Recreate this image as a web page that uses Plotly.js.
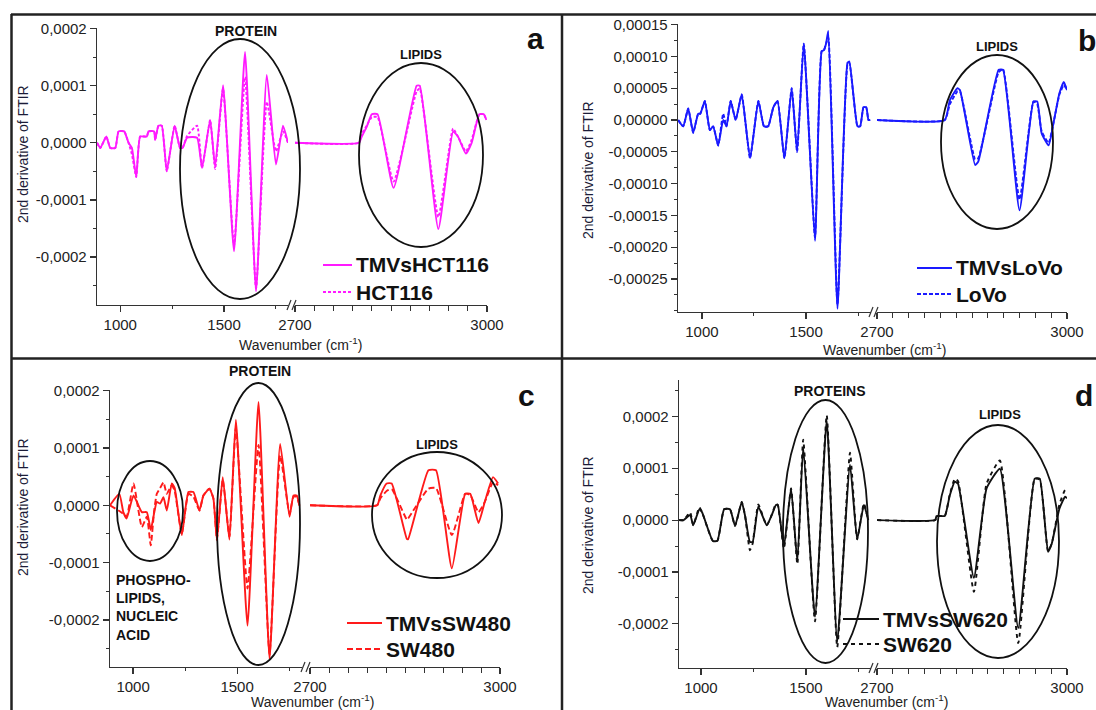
<!DOCTYPE html>
<html>
<head>
<meta charset="utf-8">
<script src="https://cdn.plot.ly/plotly-3.0.1.min.js"></script>
<style>html,body{margin:0;padding:0;background:#fff;}#chart{width:1096px;height:710px;}</style>
</head>
<body>
<div id="chart"></div>
<script>
// ---------------- DATA ----------------
// Panel a: TMVsHCT116 vs HCT116
const aLeftWn = [888,904,933,952,976,992,1019,1040,1056,1077,1096,1128,1136,1163,1168,1184,1200,1224,1262,1288,1300,1322,1370,1394,1433,1457,1495,1548,1601,1654,1706,1750,1784,1808];
const aLeftTMV = [0,-0.9e-5,1.1e-5,-0.9e-5,-0.9e-5,2e-5,2e-5,0,-0.9e-5,-6e-5,1.1e-5,1.1e-5,2e-5,2e-5,0.5e-5,3e-5,3e-5,-5e-5,3e-5,-0.9e-5,-0.9e-5,0.9e-5,0.9e-5,-4.4e-5,4e-5,-4.2e-5,10.1e-5,-19e-5,15.9e-5,-26e-5,11.9e-5,-3.8e-5,3e-5,0];
const aLeftCtrl = [0,-0.9e-5,1.1e-5,-0.9e-5,-0.9e-5,2e-5,2e-5,0,-2e-5,-6e-5,1.1e-5,1.1e-5,2e-5,2e-5,0.5e-5,3e-5,3e-5,-5e-5,3e-5,-0.9e-5,-0.9e-5,1.2e-5,3e-5,-4.4e-5,4e-5,-4.6e-5,9.5e-5,-18e-5,11.5e-5,-25.5e-5,7.2e-5,-1.5e-5,2e-5,0];
const aRightWn = [2700,2800,2804,2812,2820,2829,2854,2890,2895,2924,2947,2955,2967,2976,2988,2995,2999];
const aRightTMV = [0,0,1e-5,2.8e-5,5e-5,5e-5,-7.9e-5,10e-5,10e-5,-15.1e-5,2e-5,1e-5,-1.9e-5,0,5e-5,5e-5,4e-5];
const aRightCtrl = [0,0,1.5e-5,3e-5,4.5e-5,4.5e-5,-6.8e-5,9e-5,9.5e-5,-13e-5,2.5e-5,1e-5,-1.5e-5,0.5e-5,5e-5,5e-5,4e-5];

// Panel b: TMVsLoVo vs LoVo
const bLeftWn = [886,910,934,958,982,992,1014,1038,1054,1078,1102,1118,1138,1162,1191,1231,1271,1298,1318,1343,1363,1396,1431,1457,1489,1543,1575,1586,1596,1607,1651,1699,1708,1747,1760,1776,1789,1800,1808];
const bLeftTMV = [0,-1e-5,1.8e-5,-2e-5,1e-5,1e-5,3e-5,-1.6e-5,-1e-5,-4e-5,0,-1e-5,3e-5,0,4e-5,-6e-5,3e-5,-1e-5,-1e-5,2e-5,3e-5,-6e-5,5e-5,-5e-5,12e-5,-19e-5,10.8e-5,11e-5,12e-5,14e-5,-29.7e-5,9e-5,9.2e-5,-1e-5,-1e-5,2e-5,2e-5,0,0];
const bLeftCtrl = [0,-1e-5,1.8e-5,-2e-5,1e-5,1e-5,3e-5,-1.6e-5,-1e-5,-4e-5,1e-5,-1e-5,3e-5,0,4e-5,-6e-5,3e-5,-1e-5,-1e-5,2e-5,3e-5,-6e-5,5e-5,-5e-5,12e-5,-18.5e-5,10.8e-5,11e-5,12e-5,13e-5,-29e-5,8.7e-5,9e-5,-1e-5,-1e-5,2e-5,2e-5,0,0];
const bRightWn = [2700,2807,2815,2827,2831,2855,2860,2892,2899,2925,2947,2953,2960,2971,2979,2988,2995,3000];
const bRightTMV = [0,0,3.1e-5,5e-5,4.7e-5,-7.1e-5,-6.5e-5,7.9e-5,7.9e-5,-14.2e-5,2.9e-5,2.9e-5,-2.1e-5,-4e-5,-0.3e-5,4.2e-5,6e-5,4.7e-5];
const bRightCtrl = [0,0,2.5e-5,4.5e-5,4.5e-5,-6.2e-5,-6e-5,7.5e-5,8e-5,-12.5e-5,2.9e-5,2.5e-5,-1.8e-5,-3.6e-5,-0.3e-5,4e-5,5.5e-5,4.7e-5];

// Panel c: TMVsSW480 vs SW480
const cLeftWn = [889,934,953,969,1002,1042,1066,1085,1101,1114,1130,1146,1162,1186,1200,1234,1266,1290,1319,1338,1367,1386,1403,1431,1463,1494,1550,1603,1656,1707,1752,1771,1787,1800,1803];
const cLeftTMV = [0,2e-5,-1.2e-5,-2.3e-5,1.7e-5,-1.2e-5,-1.2e-5,-4.3e-5,-1.4e-5,0.6e-5,0.3e-5,1.4e-5,-0.9e-5,3.8e-5,3e-5,-5.2e-5,2.3e-5,2.3e-5,-0.9e-5,1.7e-5,2.9e-5,1.2e-5,-6.1e-5,4.9e-5,-6e-5,14.9e-5,-21e-5,18e-5,-26.8e-5,10.7e-5,-2e-5,1.7e-5,1.7e-5,0,0];
const cLeftCtrl = [0,-1e-5,-1.5e-5,-2e-5,3.8e-5,-3.8e-5,-2e-5,-7e-5,-1e-5,2e-5,3e-5,4e-5,2e-5,3.5e-5,2.5e-5,-5e-5,2e-5,1.5e-5,-0.9e-5,1.7e-5,2.9e-5,1.2e-5,-6e-5,4.5e-5,-5.5e-5,13.5e-5,-14.5e-5,10.5e-5,-26e-5,8.7e-5,-1.5e-5,1.5e-5,1.5e-5,0,0];
const cRightWn = [2700,2806,2811,2821,2829,2853,2855,2887,2899,2924,2945,2953,2966,2976,2989,2997];
const cRightTMV = [0,0,1.7e-5,3.8e-5,3.8e-5,-5.9e-5,-5.9e-5,6.1e-5,6.1e-5,-11e-5,2e-5,2e-5,-3.1e-5,0.6e-5,4.9e-5,3.8e-5];
const cRightCtrl = [0,0,1.2e-5,2.5e-5,2.8e-5,-2.5e-5,-2.3e-5,2.9e-5,3e-5,-5.2e-5,2e-5,1.8e-5,-1.2e-5,0.6e-5,4e-5,3.5e-5];

// Panel d: TMVsSW620 vs SW620
const dLeftWn = [895,917,948,963,992,1005,1056,1078,1110,1138,1162,1194,1210,1233,1246,1273,1313,1337,1357,1366,1395,1429,1459,1487,1543,1599,1649,1710,1744,1776,1797];
const dLeftTMV = [0,0,1e-5,-1e-5,2.1e-5,1.5e-5,-4e-5,-4e-5,2.1e-5,2.1e-5,-1.1e-5,3.5e-5,0.8e-5,-4.2e-5,-4.2e-5,2.6e-5,-1e-5,1e-5,2.9e-5,2.9e-5,-5.1e-5,6.1e-5,-8e-5,14.1e-5,-18.6e-5,19.2e-5,-23.4e-5,10.7e-5,-3.7e-5,2.9e-5,0];
const dLeftCtrl = [0,0,1.5e-5,-1e-5,2.5e-5,1.5e-5,-4e-5,-4e-5,2.1e-5,2.1e-5,-1.1e-5,3.5e-5,0.8e-5,-5.8e-5,-4.5e-5,3e-5,-1e-5,1e-5,3.2e-5,2.9e-5,-5.5e-5,6.1e-5,-8.5e-5,15.5e-5,-19.5e-5,20.2e-5,-24.5e-5,13e-5,-3.7e-5,3.2e-5,0];
const dRightWn = [2700,2792,2794,2807,2815,2823,2828,2853,2873,2894,2923,2949,2957,2970,2976,2988,2997,3000];
const dRightTMV = [0,0,0.8e-5,0.8e-5,4.8e-5,7.4e-5,7e-5,-11.1e-5,6.1e-5,9.9e-5,-20.8e-5,8e-5,8e-5,-6.1e-5,-4.5e-5,2.2e-5,4.5e-5,4.2e-5];
const dRightCtrl = [0,0,0.8e-5,0.8e-5,5e-5,8e-5,7.5e-5,-13.8e-5,7e-5,11.5e-5,-23.7e-5,8e-5,7.8e-5,-6e-5,-4.5e-5,3e-5,5.8e-5,5.5e-5];

// Tick values / labels
const yTicksACD = [-0.0002,-0.0001,0,0.0001,0.0002];
const yTicksB = [-0.00025,-0.0002,-0.00015,-0.0001,-0.00005,0,0.00005,0.0001,0.00015];
const xLeftTicks = [1000,1500];
const xRightTicks = [2700,3000];
const seriesNames = [["TMVsHCT116","HCT116"],["TMVsLoVo","LoVo"],["TMVsSW480","SW480"],["TMVsSW620","SW620"]];

// ---------------- LAYOUT HELPERS ----------------
const W = 1096, H = 710;
const px = x => x / W;
const py = y => 1 - y / H;
const FONT = 'Liberation Sans, Arial, sans-serif';
const AX = '#333333';

function yAxis(top, bot, range, ticks, dec, minorDt, anchor) {
  return {
    domain: [py(bot), py(top)], range: range, anchor: anchor,
    showline: true, linecolor: AX, linewidth: 1.3, mirror: false,
    showgrid: false, zeroline: false,
    ticks: 'outside', ticklen: 6, tickwidth: 1.2, tickcolor: AX,
    tickmode: 'array', tickvals: ticks,
    ticktext: ticks.map(v => v.toFixed(dec).replace('.', ',').replace(/^-(0,0+)$/, '$1')),
    tickfont: {family: FONT, size: 15, color: '#222'},
    minor: {tickmode: 'linear', tick0: 0, dtick: minorDt, ticks: 'outside', ticklen: 3, tickcolor: AX, tickwidth: 1}
  };
}
function xAxis(l, r, range, tickvals, minorDt, minorT0, minorLen, anchor) {
  return {
    domain: [px(l), px(r)], range: range, anchor: anchor,
    showline: true, linecolor: AX, linewidth: 1.3,
    showgrid: false, zeroline: false,
    ticks: 'outside', ticklen: 6, tickwidth: 1.2, tickcolor: AX,
    tickmode: 'array', tickvals: tickvals, ticktext: tickvals.map(String),
    tickfont: {family: FONT, size: 15, color: '#222'},
    minor: {tickmode: 'linear', tick0: minorT0, dtick: minorDt, ticks: 'outside', ticklen: minorLen, tickcolor: AX, tickwidth: 1}
  };
}

// ---------------- TRACES ----------------
function tr(x, y, xa, ya, color, dash, name) {
  return {type: 'scatter', mode: 'lines', x: x, y: y, xaxis: xa, yaxis: ya,
    line: {color: color, width: 1.9, dash: dash, shape: 'spline', smoothing: 0.45},
    name: name, showlegend: false, hoverinfo: 'skip'};
}
const MAG = '#ff1aff', BLU = '#1a1aff', RED = '#ff1a1a', BLK = '#111111';
const dA = '3px,2px', dB = '4px,2px', dC = '6px,3px', dD = '4px,4px';
const traces = [
  tr(aLeftWn, aLeftTMV, 'x', 'y', MAG, 'solid', seriesNames[0][0]),
  tr(aLeftWn, aLeftCtrl, 'x', 'y', MAG, dA, seriesNames[0][1]),
  tr(aRightWn, aRightTMV, 'x2', 'y', MAG, 'solid', seriesNames[0][0]),
  tr(aRightWn, aRightCtrl, 'x2', 'y', MAG, dA, seriesNames[0][1]),

  tr(bLeftWn, bLeftTMV, 'x3', 'y2', BLU, 'solid', seriesNames[1][0]),
  tr(bLeftWn, bLeftCtrl, 'x3', 'y2', BLU, dB, seriesNames[1][1]),
  tr(bRightWn, bRightTMV, 'x4', 'y2', BLU, 'solid', seriesNames[1][0]),
  tr(bRightWn, bRightCtrl, 'x4', 'y2', BLU, dB, seriesNames[1][1]),

  tr(cLeftWn, cLeftTMV, 'x5', 'y3', RED, 'solid', seriesNames[2][0]),
  tr(cLeftWn, cLeftCtrl, 'x5', 'y3', RED, dC, seriesNames[2][1]),
  tr(cRightWn, cRightTMV, 'x6', 'y3', RED, 'solid', seriesNames[2][0]),
  tr(cRightWn, cRightCtrl, 'x6', 'y3', RED, dC, seriesNames[2][1]),

  tr(dLeftWn, dLeftTMV, 'x7', 'y4', BLK, 'solid', seriesNames[3][0]),
  tr(dLeftWn, dLeftCtrl, 'x7', 'y4', BLK, dD, seriesNames[3][1]),
  tr(dRightWn, dRightTMV, 'x8', 'y4', BLK, 'solid', seriesNames[3][0]),
  tr(dRightWn, dRightCtrl, 'x8', 'y4', BLK, dD, seriesNames[3][1])
];

// ---------------- SHAPES ----------------
const shapes = [];
function line(x0, y0, x1, y1, w, c, dash) {
  shapes.push({type: 'line', xref: 'paper', yref: 'paper', x0: px(x0), y0: py(y0), x1: px(x1), y1: py(y1),
    line: {color: c || '#222', width: w || 2, dash: dash || 'solid'}});
}
function ell(x0, y0, x1, y1) {
  shapes.push({type: 'circle', xref: 'paper', yref: 'paper', x0: px(x0), y0: py(y1), x1: px(x1), y1: py(y0),
    line: {color: '#111', width: 1.8}});
}
function brk(cx, ay) {
  line(cx - 5, ay + 5, cx - 1, ay - 5, 1.2, AX);
  line(cx, ay + 5, cx + 4, ay - 5, 1.2, AX);
}
// panel borders
line(11, 14.5, 1096, 14.5, 2.5);
line(11.5, 14, 11.5, 710, 2.5);
line(562, 14, 562, 710, 2.5);
line(11, 358.5, 1096, 358.5, 2.5);
// ellipses
ell(180, 39, 300, 299); ell(359, 63, 483, 247);
ell(941, 55, 1053, 229);
ell(117, 461, 183, 561); ell(217, 383, 300, 665); ell(372, 452, 502, 578);
ell(783, 400, 868, 663); ell(937, 425, 1059, 658);
// axis breaks
brk(292, 305); brk(874, 312); brk(306, 667); brk(874, 668);

// ---------------- ANNOTATIONS ----------------
const annotations = [];
function ann(text, x, y, size, opts) {
  annotations.push(Object.assign({text: text, x: px(x), y: py(y), xref: 'paper', yref: 'paper', showarrow: false,
    xanchor: 'center', yanchor: 'middle', font: {family: FONT, size: size, color: '#111', weight: 'bold'}}, opts || {}));
}
ann('a', 535, 38, 30); ann('b', 1087, 40, 30); ann('c', 526, 395, 30); ann('d', 1084, 395, 30);
ann('PROTEIN', 246, 31, 14); ann('LIPIDS', 421, 54, 13);
ann('LIPIDS', 997, 46, 13);
ann('PROTEIN', 260, 371, 14); ann('LIPIDS', 437, 444, 13);
ann('PHOSPHO-<br>LIPIDS,<br>NUCLEIC<br>ACID', 114, 607, 14, {xanchor: 'left', align: 'left'});
ann('PROTEINS', 830, 391, 14); ann('LIPIDS', 1000, 414, 13);
const ytf = {family: FONT, size: 14, color: '#1c1c38', weight: 'normal'};
ann('2nd derivative of FTIR', 23, 154, 14, {textangle: -90, font: ytf});
ann('2nd derivative of FTIR', 588, 170, 14, {textangle: -90, font: ytf});
ann('2nd derivative of FTIR', 23, 507, 14, {textangle: -90, font: ytf});
ann('2nd derivative of FTIR', 588, 525, 14, {textangle: -90, font: ytf});
const xtf = {family: FONT, size: 14, color: '#222', weight: 'normal'};
ann('Wavenumber (cm<sup>-1</sup>)', 300, 344, 14, {font: xtf});
ann('Wavenumber (cm<sup>-1</sup>)', 884, 349, 14, {font: xtf});
ann('Wavenumber (cm<sup>-1</sup>)', 312, 701, 14, {font: xtf});
ann('Wavenumber (cm<sup>-1</sup>)', 886, 701, 14, {font: xtf});

// ---------------- LEGENDS (line samples + labels) ----------------
function legendPair(x0, x1, y1, y2, color, dash, names) {
  line(x0, y1, x1, y1, 2, color, 'solid');
  line(x0, y2, x1, y2, 2, color, dash);
  ann(names[0], x1 + 2, y1, 21, {xanchor: 'left'});
  ann(names[1], x1 + 2, y2, 21, {xanchor: 'left'});
}
legendPair(323, 352, 265, 292, MAG, dA, seriesNames[0]);
legendPair(917, 952, 268, 294, BLU, dB, seriesNames[1]);
legendPair(347, 382, 623, 649, RED, dC, seriesNames[2]);
legendPair(843, 879, 619, 644, BLK, dD, seriesNames[3]);

const layout = {
  width: W, height: H, margin: {l: 0, r: 0, t: 0, b: 0},
  paper_bgcolor: '#ffffff', plot_bgcolor: 'rgba(0,0,0,0)',
  showlegend: false,
  xaxis: xAxis(97, 288, [888, 1808], xLeftTicks, 250, 1000, 3, 'y'),
  xaxis2: xAxis(295, 487, [2700, 3000], xRightTicks, 30, 2700, 5, 'y'),
  yaxis: yAxis(28, 305, [-0.000284, 0.000201], yTicksACD, 4, 0.00005, 'x'),
  xaxis3: xAxis(678, 871, [885, 1812], xLeftTicks, 250, 1000, 3, 'y2'),
  xaxis4: xAxis(877, 1067, [2700, 3000], xRightTicks, 25, 2700, 5, 'y2'),
  yaxis2: yAxis(24, 312, [-0.000302, 0.000151], yTicksB, 5, 0.000025, 'x3'),
  xaxis5: xAxis(110, 302, [889, 1812], xLeftTicks, 250, 1000, 3, 'y3'),
  xaxis6: xAxis(310, 500, [2700, 3000], xRightTicks, 30, 2700, 5, 'y3'),
  yaxis3: yAxis(390, 667, [-0.000282, 0.000201], yTicksACD, 4, 0.00005, 'x5'),
  xaxis7: xAxis(679, 871, [895, 1810], xLeftTicks, 250, 1000, 3, 'y4'),
  xaxis8: xAxis(877, 1067, [2700, 3000], xRightTicks, 25, 2700, 5, 'y4'),
  yaxis4: yAxis(380, 668, [-0.000285, 0.00027], yTicksACD, 4, 0.00005, 'x7'),
  shapes: shapes, annotations: annotations
};

Plotly.newPlot('chart', traces, layout, {staticPlot: true, displayModeBar: false});
</script>
</body>
</html>
